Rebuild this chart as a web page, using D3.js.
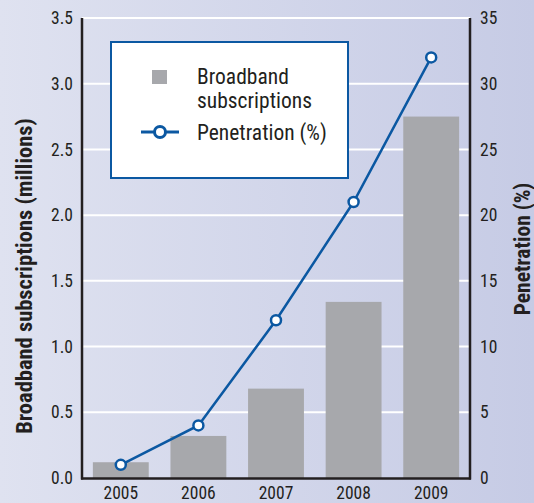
<!DOCTYPE html>
<html>
<head>
<meta charset="utf-8">
<script src="https://cdn.jsdelivr.net/npm/d3@7"></script>
<style>
  html, body { margin: 0; padding: 0; }
  svg { display: block; }
  text { fill: #231f20; }
</style>
</head>
<body>
<script>
const years = ["2005", "2006", "2007", "2008", "2009"];
const subscriptions = [0.12, 0.32, 0.68, 1.34, 2.75];
const penetration = [1, 4, 12, 21, 32];
const leftTicks = [0, 0.5, 1.0, 1.5, 2.0, 2.5, 3.0, 3.5];
const rightTicks = [0, 5, 10, 15, 20, 25, 30, 35];

const W = 534, H = 503;
const m = { left: 82, right: 470, top: 18, bottom: 478 };
const narrow = '"Roboto Condensed", "Liberation Sans Narrow", sans-serif';

const svg = d3.select("body").append("svg").attr("width", W).attr("height", H);
const defs = svg.append("defs");
const grad = defs.append("linearGradient").attr("id", "bg").attr("x1", "0").attr("x2", "1").attr("y1", "0").attr("y2", "0");
grad.append("stop").attr("offset", "0").attr("stop-color", "#dfe2f0");
grad.append("stop").attr("offset", "1").attr("stop-color", "#c6cbe5");
svg.append("rect").attr("width", W).attr("height", H).attr("fill", "url(#bg)");

const x = d3.scaleBand().domain(years).range([m.left, m.right]).paddingInner(0.28).paddingOuter(0.14);
const yL = d3.scaleLinear().domain([0, 3.5]).range([m.bottom, m.top]);
const yR = d3.scaleLinear().domain([0, 35]).range([m.bottom, m.top]);

// gridlines
svg.append("g").selectAll("line").data(leftTicks.slice(1)).join("line")
  .attr("x1", m.left).attr("x2", m.right)
  .attr("y1", d => yL(d)).attr("y2", d => yL(d))
  .attr("stroke", "#ffffff").attr("stroke-width", 2);

// bars
svg.append("g").selectAll("rect").data(years).join("rect")
  .attr("x", d => x(d)).attr("width", x.bandwidth())
  .attr("y", (d, i) => yL(subscriptions[i]))
  .attr("height", (d, i) => yL(0) - yL(subscriptions[i]))
  .attr("fill", "#a7a8ac");

// axes lines
const axisColor = "#231f20";
svg.append("line").attr("x1", m.left).attr("x2", m.left).attr("y1", m.top).attr("y2", m.bottom + 1.5)
  .attr("stroke", axisColor).attr("stroke-width", 2.5);
svg.append("line").attr("x1", m.right).attr("x2", m.right).attr("y1", m.top).attr("y2", m.bottom + 1.5)
  .attr("stroke", axisColor).attr("stroke-width", 2.5);
svg.append("line").attr("x1", m.left - 1).attr("x2", m.right + 1).attr("y1", m.bottom + 0.5).attr("y2", m.bottom + 0.5)
  .attr("stroke", axisColor).attr("stroke-width", 2.5);

function styleTicks(g) {
  g.select(".domain").remove();
  g.selectAll("text").attr("font-size", 17.5).attr("fill", "#231f20").style("font-family", narrow);
}

const fmt = d3.format(".1f");
svg.append("g").attr("transform", `translate(${m.left},0)`)
  .call(d3.axisLeft(yL).tickValues(leftTicks).tickFormat(fmt).tickSize(0).tickPadding(9))
  .call(styleTicks);

svg.append("g").attr("transform", `translate(${m.right},0)`)
  .call(d3.axisRight(yR).tickValues(rightTicks).tickFormat(d3.format("d")).tickSize(0).tickPadding(10))
  .call(styleTicks);

svg.append("g").attr("transform", `translate(0,${m.bottom})`)
  .call(d3.axisBottom(x).tickSize(0).tickPadding(9))
  .call(styleTicks);

// axis titles
svg.append("text").attr("transform", `translate(32,276) rotate(-90)`)
  .attr("text-anchor", "middle").attr("font-size", 22.5).attr("font-weight", "bold")
  .style("font-family", narrow)
  .text("Broadband subscriptions (millions)");
svg.append("text").attr("transform", `translate(530,249) rotate(-90)`)
  .attr("text-anchor", "middle").attr("font-size", 21.5).attr("font-weight", "bold")
  .style("font-family", narrow)
  .text("Penetration (%)");

// line
const lineColor = "#0b58a2";
const line = d3.line().x((d, i) => x(years[i]) + x.bandwidth() / 2).y(d => yR(d));
svg.append("path").datum(penetration).attr("d", line)
  .attr("fill", "none").attr("stroke", lineColor).attr("stroke-width", 2.5);
svg.append("g").selectAll("circle").data(penetration).join("circle")
  .attr("cx", (d, i) => x(years[i]) + x.bandwidth() / 2).attr("cy", d => yR(d))
  .attr("r", 5).attr("fill", "#ffffff").attr("stroke", lineColor).attr("stroke-width", 2.5);

// legend
const lg = svg.append("g");
lg.append("rect").attr("x", 111).attr("y", 42).attr("width", 237).attr("height", 136)
  .attr("fill", "#ffffff").attr("stroke", lineColor).attr("stroke-width", 2);
lg.append("rect").attr("x", 152).attr("y", 70).attr("width", 15).attr("height", 14).attr("fill", "#a7a8ac");
const legendText = (y, t) => lg.append("text").attr("x", 197).attr("y", y)
  .attr("font-size", 21.5).style("font-family", narrow).text(t);
legendText(84, "Broadband");
legendText(108, "subscriptions");
lg.append("line").attr("x1", 141).attr("x2", 179).attr("y1", 132).attr("y2", 132)
  .attr("stroke", lineColor).attr("stroke-width", 3);
lg.append("circle").attr("cx", 160).attr("cy", 132).attr("r", 5.5)
  .attr("fill", "#ffffff").attr("stroke", lineColor).attr("stroke-width", 3);
legendText(140, "Penetration (%)");
</script>
</body>
</html>
